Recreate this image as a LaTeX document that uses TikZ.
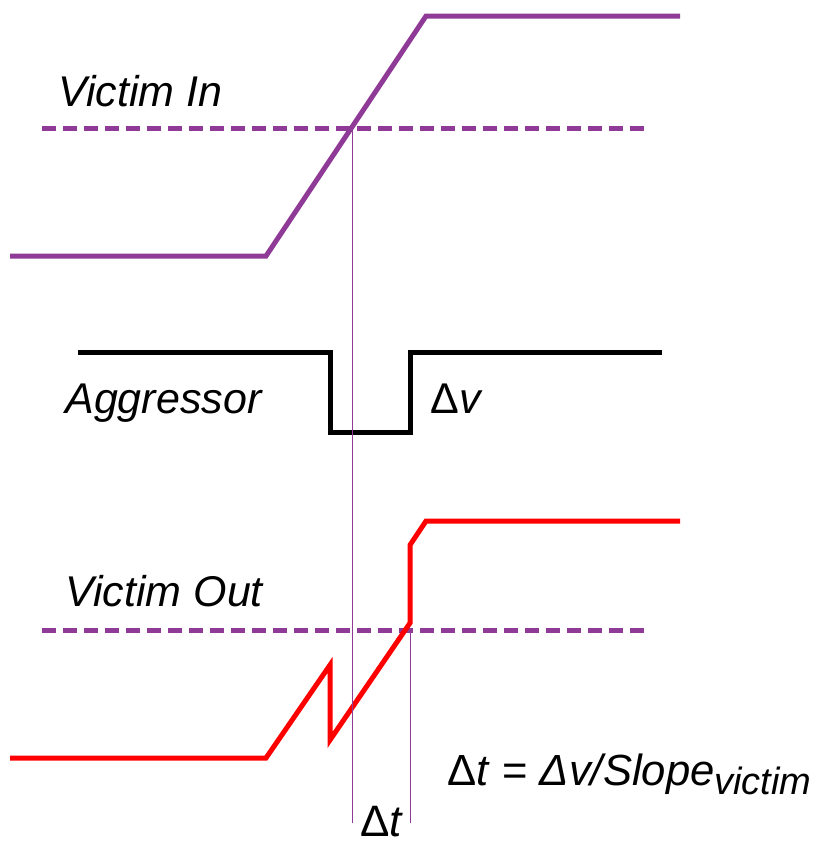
\documentclass[tikz,border=0pt]{standalone}
\usepackage{fontspec}
\setmainfont{Liberation Sans}
\definecolor{victim}{RGB}{142,58,150}
\begin{document}
\begin{tikzpicture}[x=0.5pt, y=-0.5pt, line join=miter,
  wave/.style={line width=2.5pt},
  thresh/.style={victim, line width=2.5pt, dash pattern=on 7pt off 3.5pt},
  marker/.style={victim, line width=0.9pt},
  lbl/.style={anchor=base west, inner sep=0pt, font=\fontsize{21.5}{26}\selectfont\itshape}]
\useasboundingbox (0,0) rectangle (825,846);
% Victim In
\draw[thresh] (42,128) -- (650,128);
\draw[wave, victim] (10,256) -- (266,256) -- (426,16) -- (680,16);
\coordinate (cin) at (352.5,128);
\node[lbl] (vin) at (58,106) {Victim In};
% Aggressor
\draw[wave, black] (78,352) -- (330,352) -- (330,432) -- (410,432) -- (410,352) -- (662,352);
\node[lbl] (agg) at (65,413) {Aggressor};
\node[lbl] (dv) at (430,413) {\textup{Δ}v};
% Victim Out
\draw[thresh] (42,630) -- (645,630);
\draw[wave, red] (10,758) -- (266,758) -- (330,665) -- (330,740) -- (410,623) -- (410,545) -- (426,521) -- (680,521);
\coordinate (cout) at (410.5,630);
\node[lbl] (vout) at (65,606) {Victim Out};
% delay markers
\coordinate (bin) at (352.5,823);
\coordinate (bout) at (410.5,823);
\draw[marker] (cin) -- (bin);
\draw[marker] (cout) -- (bout);
\node[lbl, font=\fontsize{22}{26}\selectfont\itshape] (dt) at (360,836) {\textup{Δ}t};
\node[lbl, font=\fontsize{21.8}{26}\selectfont\itshape] (form) at (447,785)
  {\textup{Δ}t \textup{=} Δv/Slope\raisebox{-0.4ex}{\fontsize{19}{22}\selectfont victim}};
\end{tikzpicture}
\end{document}
